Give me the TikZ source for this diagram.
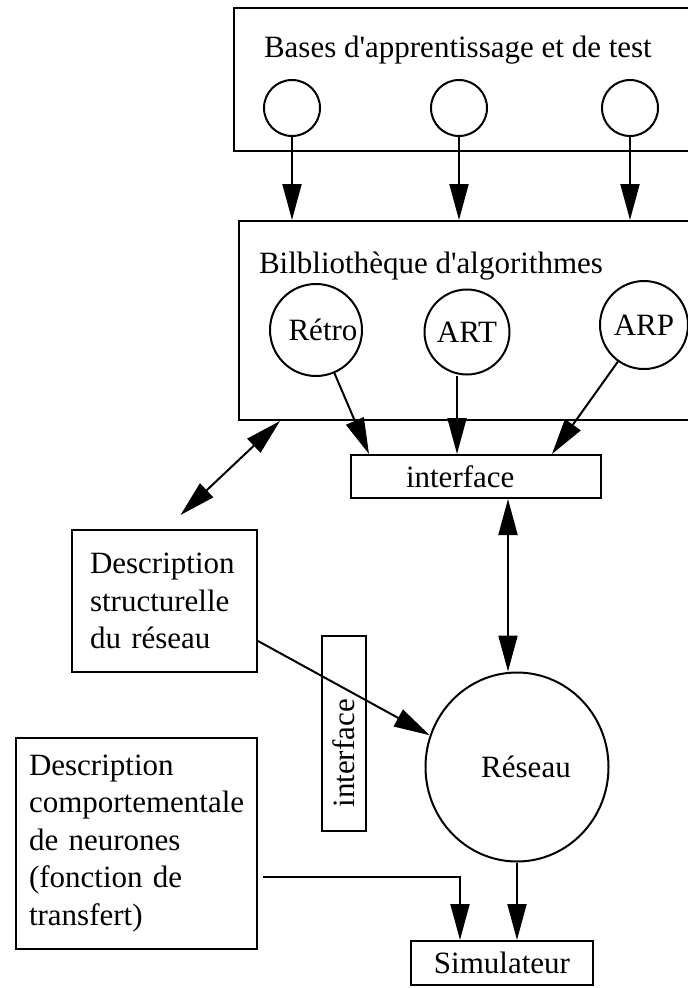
\documentclass[tikz,border=0pt]{standalone}
\usepackage{fontspec}
\setmainfont{Liberation Serif}
\usetikzlibrary{arrows.meta,shapes.geometric}

\begin{document}
\begin{tikzpicture}
        [
            x=1pt, y=-1pt,
            >={Triangle[length=36pt, width=19pt]},
            ->,
            line width=2pt,
            every node/.style={font=\fontsize{31}{37.5}\selectfont},
            box/.style={draw, -, rectangle, anchor=north west},
            ring/.style={draw, -, circle, inner sep=0pt},
            txt/.style={anchor=base west, inner sep=0pt}
        ]
        \useasboundingbox (0, 0) rectangle (688, 988);

        % bases d'apprentissage
        \node[box, minimum width=467, minimum height=143] (bases) at (233, 7) {};
        \node[txt] (basestitle) at (263, 57) {Bases d\textquotesingle apprentissage et de test};
        \node[ring, minimum size=56] (b1) at (292, 108) {};
        \node[ring, minimum size=56] (b2) at (459, 108) {};
        \node[ring, minimum size=56] (b3) at (630, 108) {};

        % bibliotheque
        \node[box, minimum width=462, minimum height=199] (lib) at (238, 220) {};
        \node[txt] (libtitle) at (258, 273) {Bilbliothèque d\textquotesingle algorithmes};
        \node[ring, minimum size=92] (retro) at (316, 330) {\hspace*{14pt}Rétro};
        \node[ring, minimum size=85] (art) at (467, 332) {ART};
        \node[ring, minimum size=88] (arp) at (644, 325) {ARP};

        \node[box, minimum width=250, minimum height=43, inner xsep=55, inner ysep=0,
            text width=140, align=left] (iface) at (350, 454) {interface};

        \node[box, minimum width=185, minimum height=142, inner xsep=18,
            text width=149, align=left] (descS) at (71, 529) {Description\\structurelle\\du réseau};
        \node[draw, -, rotate=90, minimum width=195, minimum height=44, inner xsep=23,
            inner ysep=0, text width=149, align=left] (viface) at (344, 733) {interface};
        \node[draw, -, ellipse, minimum width=183, minimum height=189, inner sep=0] (reseau) at (517, 767) {\hspace*{18pt}Réseau};

        \node[box, minimum width=241, minimum height=211, inner xsep=13,
            text width=215, align=left] (descC) at (15, 737)
            {Description\\comportementale\\de neurones\\(fonction de\\transfert)};
        \node[draw, -, anchor=north, minimum width=182, inner ysep=11] (sim) at (502, 940) {Simulateur};

        \path
        (b1) edge (b1 |- lib.north)
        (b2) edge (b2 |- lib.north)
        (b3) edge (b3 |- lib.north)
        (retro) edge ([xshift=19pt]iface.north west)
        ([xshift=-10pt]art.south) edge ([xshift=-10pt]art.south |- iface.north)
        (arp) edge ([xshift=-50pt]iface.north east)
        ([xshift=42pt]lib.south west) edge [<->] ([xshift=16pt, yshift=14pt]descS.north)
        ([xshift=-9pt]reseau.north |- iface.south) edge [<->] ([xshift=-9pt]reseau.north)
        ([yshift=-40pt]descS.east) edge (reseau.160)
        (reseau) edge (reseau |- sim.north);

        \draw ([xshift=5pt, yshift=-33.5pt]descC.east) -| ([xshift=-42pt]sim.north);
    \end{tikzpicture}
\end{document}
